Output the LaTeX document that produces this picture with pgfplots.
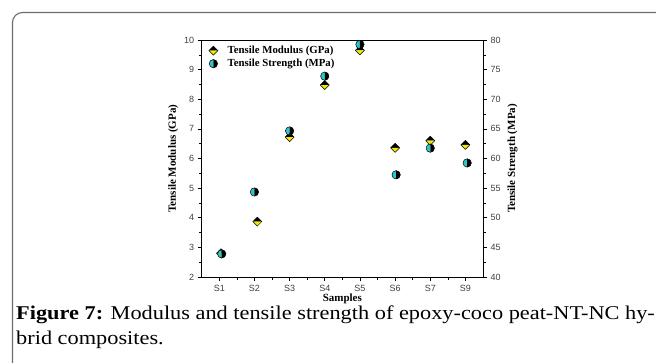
\documentclass[border=0pt]{standalone}
\usepackage{fontspec}
\setmainfont{Liberation Serif}
\newfontfamily\arialfont{Liberation Sans}
\newfontfamily\capfont[FakeStretch=1.145]{Liberation Serif}
\usepackage{pgfplots}
\pgfplotsset{compat=1.18}
\definecolor{myyellow}{RGB}{245,232,0}
\definecolor{mycyan}{RGB}{40,200,205}
\definecolor{framegray}{RGB}{110,110,110}

\pgfdeclareplotmark{hdiamond}{%
  \pgfpathmoveto{\pgfqpoint{-\pgfplotmarksize}{0pt}}%
  \pgfpathlineto{\pgfqpoint{0pt}{\pgfplotmarksize}}%
  \pgfpathlineto{\pgfqpoint{\pgfplotmarksize}{0pt}}%
  \pgfpathclose
  \pgfsetfillcolor{black}\pgfusepathqfill
  \pgfpathmoveto{\pgfqpoint{-\pgfplotmarksize}{0pt}}%
  \pgfpathlineto{\pgfqpoint{0pt}{-\pgfplotmarksize}}%
  \pgfpathlineto{\pgfqpoint{\pgfplotmarksize}{0pt}}%
  \pgfpathclose
  \pgfsetfillcolor{myyellow}\pgfusepathqfill
  \pgfpathmoveto{\pgfqpoint{-\pgfplotmarksize}{0pt}}%
  \pgfpathlineto{\pgfqpoint{0pt}{\pgfplotmarksize}}%
  \pgfpathlineto{\pgfqpoint{\pgfplotmarksize}{0pt}}%
  \pgfpathlineto{\pgfqpoint{0pt}{-\pgfplotmarksize}}%
  \pgfpathclose
  \pgfusepathqstroke
}
\pgfdeclareplotmark{hcircle}{%
  \pgfpathmoveto{\pgfqpoint{0pt}{\pgfplotmarksize}}%
  \pgfpatharc{90}{270}{\pgfplotmarksize}%
  \pgfpathclose
  \pgfsetfillcolor{mycyan}\pgfusepathqfill
  \pgfpathmoveto{\pgfqpoint{0pt}{-\pgfplotmarksize}}%
  \pgfpatharc{-90}{90}{\pgfplotmarksize}%
  \pgfpathclose
  \pgfsetfillcolor{black}\pgfusepathqfill
  \pgfpathcircle{\pgfpointorigin}{\pgfplotmarksize}%
  \pgfusepathqstroke
}

\begin{document}
\begin{tikzpicture}
\path[use as bounding box] (0pt,0pt) rectangle (656pt,-362pt);
\draw[framegray, line width=1.1pt, rounded corners=10pt] (12.5pt,-363pt) -- (12.5pt,-12.5pt) -- (657pt,-12.5pt);

\begin{axis}[
  at={(201.7pt,-277pt)}, anchor=south west,
  scale only axis, width=281.3pt, height=237pt,
  xmin=0.5, xmax=8.5, ymin=2, ymax=10,
  xtick={1,2,3,4,5,6,7,8},
  xticklabels={S1,S2,S3,S4,S5,S6,S7,S9},
  minor xtick={1.5,2.5,3.5,4.5,5.5,6.5,7.5},
  ytick={2,3,4,5,6,7,8,9,10},
  minor ytick={2.5,3.5,4.5,5.5,6.5,7.5,8.5,9.5},
  tick align=outside, xtick pos=lower, ytick pos=left,
  major tick length=4pt, minor tick length=2.5pt,
  every tick/.style={black, line width=0.6pt},
  axis line style={line width=0.8pt},
  ticklabel style={font=\arialfont\fontsize{9}{10}\selectfont, text=black!75},
  xticklabel style={yshift=-1pt},
  /pgf/number format/assume math mode=true,
  xlabel={\bfseries Samples},
  ylabel={\bfseries Tensile Modulus (GPa)},
  label style={font=\rmfamily\fontsize{11}{12}\selectfont},
  xlabel style={yshift=5pt},
  ylabel style={yshift=-1pt},
  clip=false,
  legend style={at={(axis description cs:0,1)}, anchor=north west, xshift=5pt, yshift=-2pt,
    draw=none, fill=none,
    font=\rmfamily\fontsize{10.8}{12}\selectfont\bfseries, row sep=0pt, inner sep=2pt},
  legend cell align=left,
  legend image code/.code={\draw[#1] plot[only marks] coordinates {(0cm,0cm)}; \path (0.42cm,0cm);},
]
\addplot[only marks, mark=hdiamond, mark size=4.5pt, line width=0.5pt] coordinates {
  (1.05,2.80) (2.08,3.87) (3.0,6.72) (4.0,8.48) (5.0,9.65) (6.0,6.36) (7.0,6.60) (8.0,6.46)
};
\addlegendentry{Tensile Modulus (GPa)}
\addlegendimage{only marks, mark=hcircle, mark size=4.2pt, line width=0.5pt}
\addlegendentry{Tensile Strength (MPa)}
\end{axis}

\begin{axis}[
  at={(201.7pt,-277pt)}, anchor=south west,
  scale only axis, width=281.3pt, height=237pt,
  xmin=0.5, xmax=8.5, ymin=40, ymax=80,
  axis x line=none, axis y line*=right,
  ytick={40,45,50,55,60,65,70,75,80},
  minor ytick={42.5,47.5,52.5,57.5,62.5,67.5,72.5,77.5},
  tick align=outside,
  major tick length=4pt, minor tick length=2.5pt,
  every tick/.style={black, line width=0.6pt},
  axis line style={line width=0.8pt, -},
  ticklabel style={font=\arialfont\fontsize{9}{10}\selectfont, text=black!75},
  /pgf/number format/assume math mode=true,
  ylabel={\bfseries Tensile Strength (MPa)},
  label style={font=\rmfamily\fontsize{11}{12}\selectfont},
  clip=false,
]
\addplot[only marks, mark=hcircle, mark size=4.2pt, line width=0.5pt] coordinates {
  (1.07,43.9) (2.0,54.35) (3.0,64.65) (4.0,73.9) (5.0,79.25) (6.03,57.25) (7.0,61.75) (8.05,59.25)
};
\end{axis}

\node[anchor=base west, inner sep=0pt, font=\capfont\fontsize{19.5}{25}\selectfont] at (16pt,-319pt)
  {\textbf{Figure 7:} Modulus and tensile strength of epoxy-coco peat-NT-NC hy-};
\node[anchor=base west, inner sep=0pt, font=\capfont\fontsize{19.5}{25}\selectfont] at (16pt,-344pt)
  {brid composites.};
\end{tikzpicture}
\end{document}
